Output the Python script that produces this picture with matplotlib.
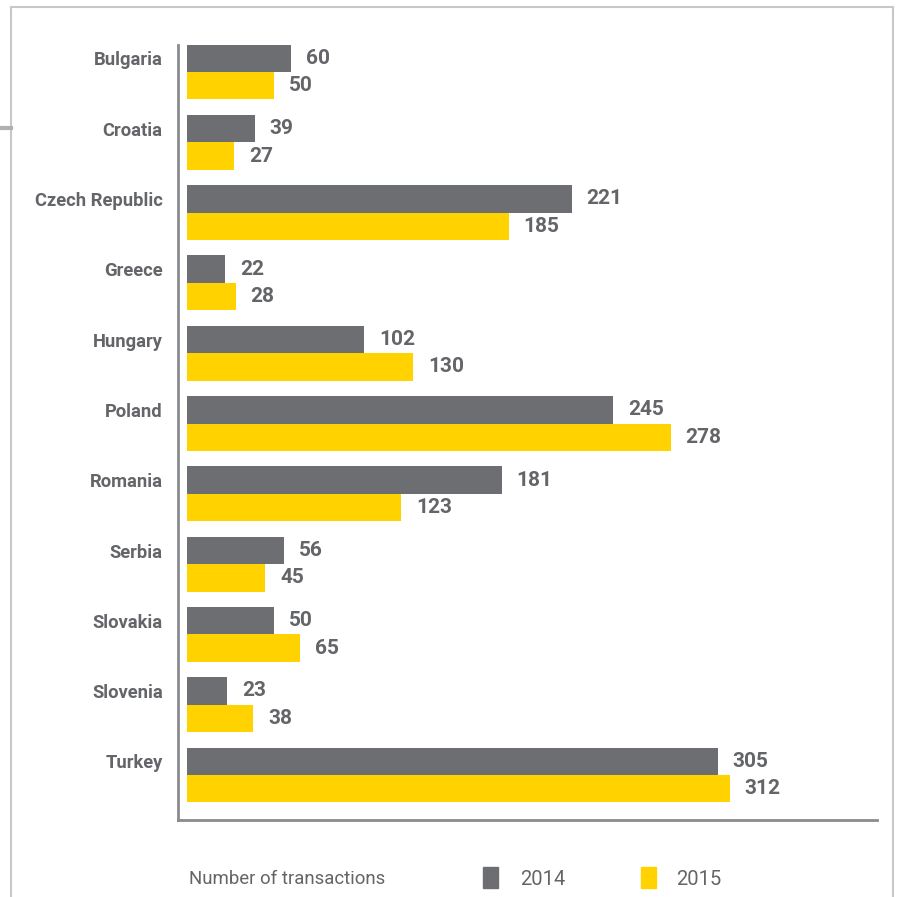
import matplotlib.pyplot as plt
import numpy as np
from matplotlib.patches import Rectangle
from matplotlib.lines import Line2D

countries = ["Bulgaria", "Croatia", "Czech Republic", "Greece", "Hungary", "Poland",
             "Romania", "Serbia", "Slovakia", "Slovenia", "Turkey"]
v2014 = [60, 39, 221, 22, 102, 245, 181, 56, 50, 23, 305]
v2015 = [50, 27, 185, 28, 130, 278, 123, 45, 65, 38, 312]
years = ["2014", "2015"]
legend_title = "Number of transactions"

grey = "#6d6e71"
yellow = "#ffd200"
txt = "#646569"

plt.rcParams['font.family'] = ['Roboto', 'DejaVu Sans']

fig = plt.figure(figsize=(8.98, 8.97), dpi=100)
ax = fig.add_axes([178/898, 1-820/897, (877-178)/898, (820-45)/897])

y = np.arange(len(countries))
h = 0.39
ax.barh(y - h/2, v2014, height=h, color=grey, align='center')
ax.barh(y + h/2, v2015, height=h, color=yellow, align='center')

for i in range(len(countries)):
    ax.text(v2014[i] + 8.5, y[i] - h/2, str(v2014[i]), va='center', ha='left',
            fontsize=15, fontweight='bold', color=txt)
    ax.text(v2015[i] + 8.5, y[i] + h/2, str(v2015[i]), va='center', ha='left',
            fontsize=15, fontweight='bold', color=txt)
    # country names sit level with the 2014 bar
    ax.text(-14, y[i] - h/2 + 0.03, countries[i], va='center', ha='right',
            fontsize=13.2, fontweight='bold', color=txt)

ax.set_xlim(-5.2, 396.6)
ax.set_ylim(10.64, -0.384)
ax.set_yticks([])
ax.set_xticks([])
for s in ['top', 'right']:
    ax.spines[s].set_visible(False)
ax.spines['left'].set_color('#8a8b8e')
ax.spines['left'].set_linewidth(2)
ax.spines['bottom'].set_color('#8a8b8e')
ax.spines['bottom'].set_linewidth(2)

# legend row
fig.text(189/898, 1-879/897, legend_title, fontsize=13.4, color=txt, va='center', ha='left')
fig.patches.append(Rectangle((483/898, 1-888/897), 15/898, 21/897, transform=fig.transFigure,
                             color=grey))
fig.text(520/898, 1-879/897, years[0], fontsize=14.5, color=txt, va='center', ha='left')
fig.patches.append(Rectangle((641/898, 1-888/897), 15/898, 21/897, transform=fig.transFigure,
                             color=yellow))
fig.text(676/898, 1-879/897, years[1], fontsize=14.5, color=txt, va='center', ha='left')

# page frame
border = "#c8c8c8"
fig.add_artist(Line2D([11/898, 11/898], [0, 1-7/897], transform=fig.transFigure, color=border, lw=1.5))
fig.add_artist(Line2D([11/898, 893/898], [1-7/897, 1-7/897], transform=fig.transFigure, color=border, lw=1.5))
fig.add_artist(Line2D([893/898, 893/898], [0, 1-7/897], transform=fig.transFigure, color=border, lw=1.5))
fig.add_artist(Line2D([0, 11/898], [1-128/897, 1-128/897], transform=fig.transFigure, color="#b0b0b0", lw=3))

fig.savefig("out.png", dpi=100)
